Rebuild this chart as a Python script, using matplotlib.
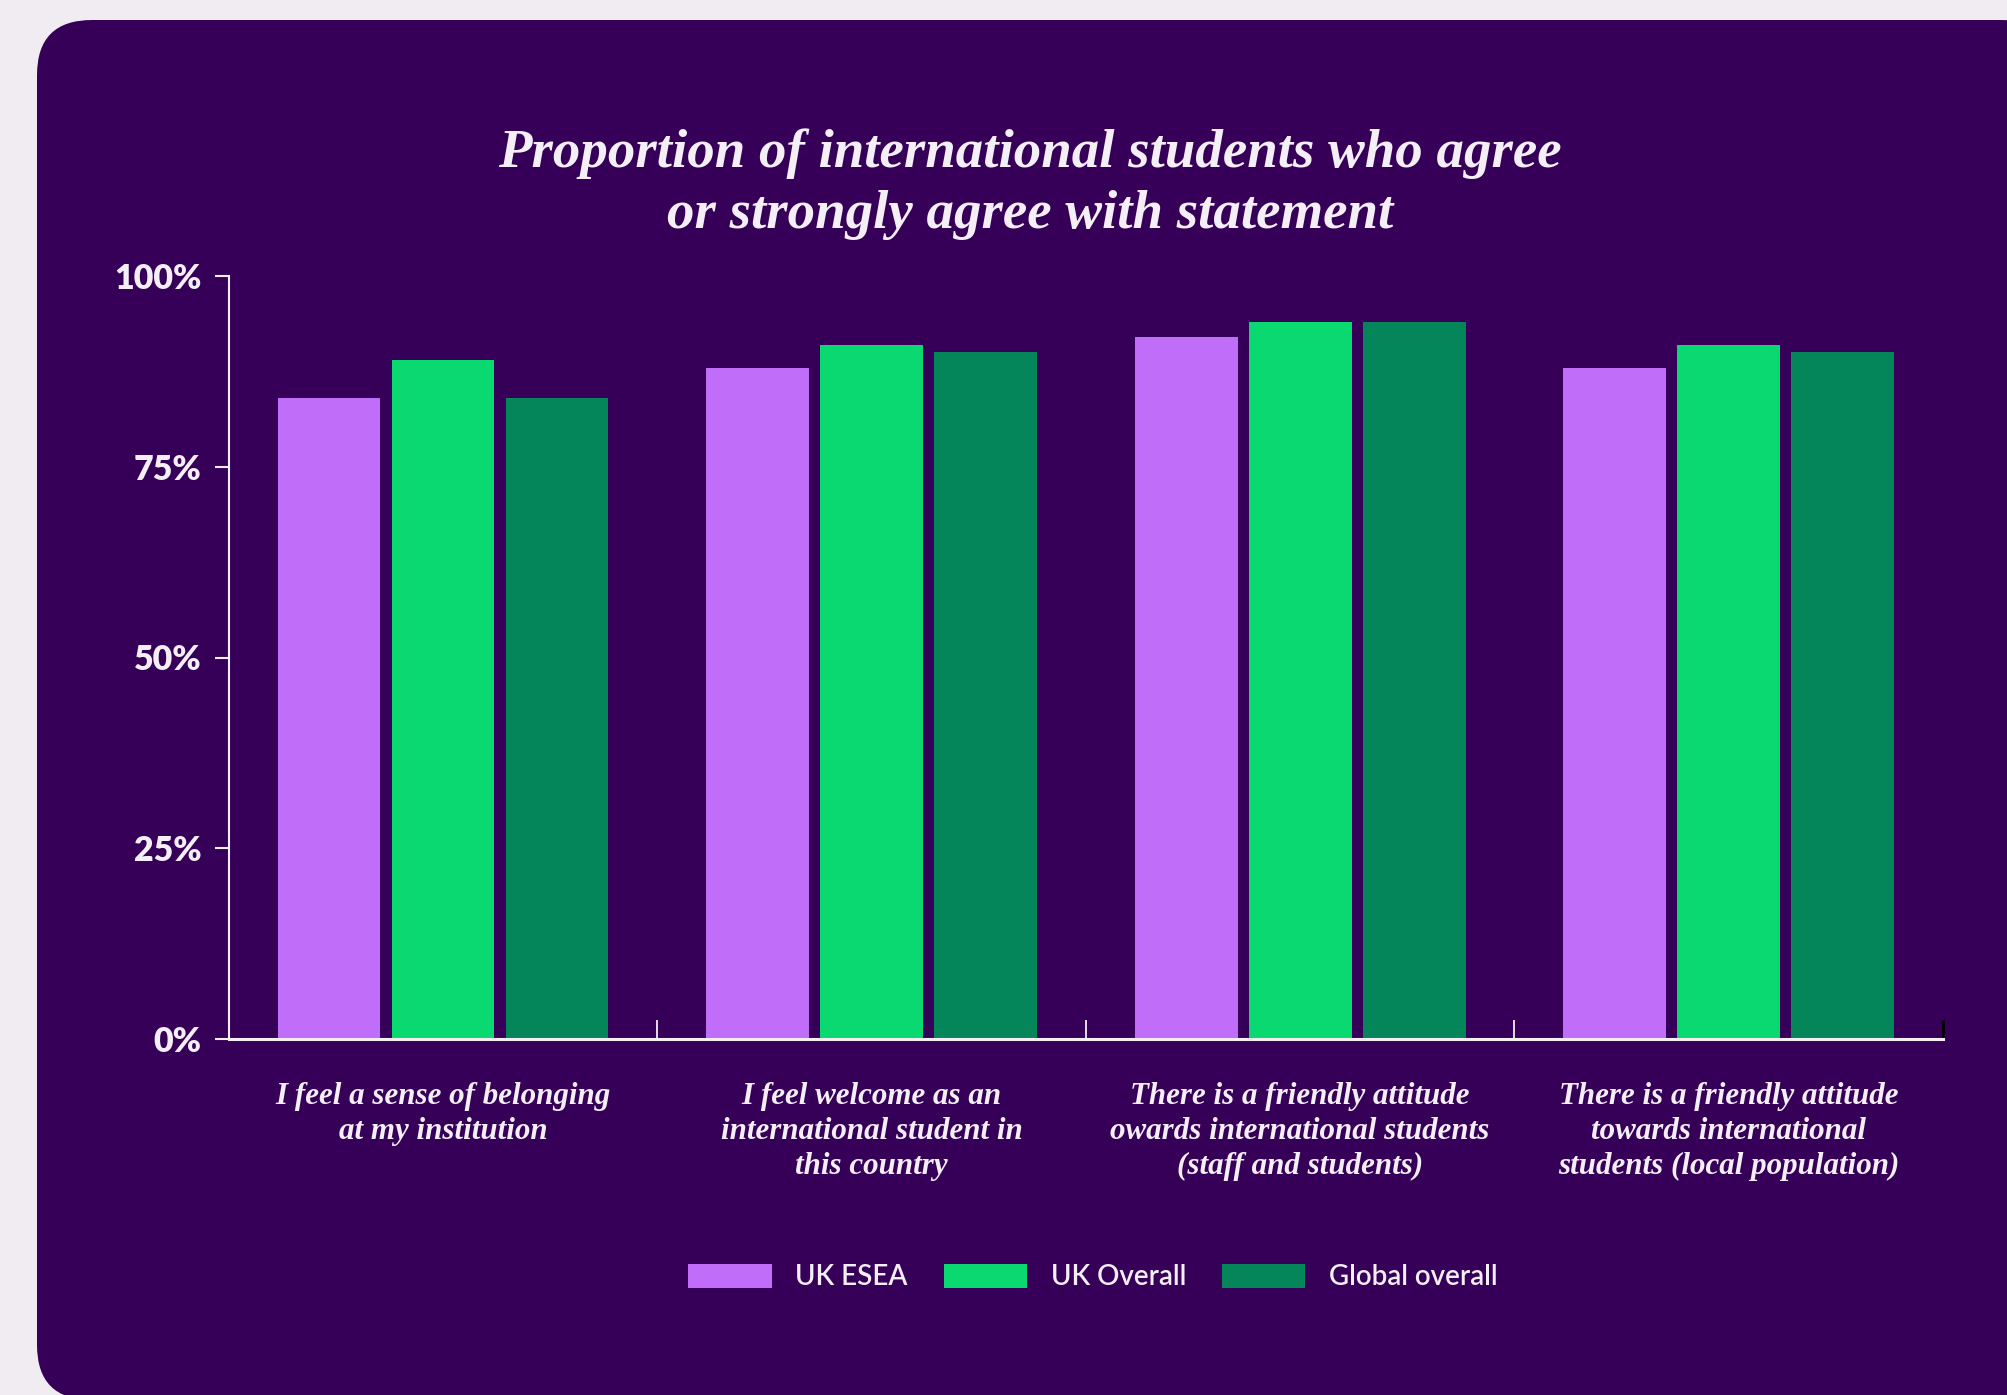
import matplotlib
matplotlib.use("Agg")
import matplotlib.pyplot as plt
from matplotlib.patches import FancyBboxPatch, Patch
import numpy as np

# Data
categories = [
    "I feel a sense of belonging\nat my institution",
    "I feel welcome as an\ninternational student in\nthis country",
    "There is a friendly attitude\nowards international students\n(staff and students)",
    "There is a friendly attitude\ntowards international\nstudents (local population)",
]
series_names = ["UK ESEA", "UK Overall", "Global overall"]
uk_esea = [84, 88, 92, 88]
uk_overall = [89, 91, 94, 91]
global_overall = [84, 90, 94, 90]
y_ticks = [0, 25, 50, 75, 100]
y_tick_labels = ["0%", "25%", "50%", "75%", "100%"]
title = "Proportion of international students who agree\nor strongly agree with statement"

# Styling
PAGE_BG = "#F1ECF2"
PANEL_BG = "#360058"
TEXT = "#F4EEF6"
COLORS = ["#C06EF9", "#0AD870", "#04855A"]
SANS = ["Lato", "DejaVu Sans"]
SERIF = ["Liberation Serif", "DejaVu Serif"]

W, H, DPI = 2008, 1395, 100
fig = plt.figure(figsize=(W / DPI, H / DPI), dpi=DPI, facecolor=PAGE_BG)

# Rounded dark panel behind everything
panel = FancyBboxPatch((0.37, -0.05), 20.2, 13.8,
                       boxstyle="round,pad=0,rounding_size=0.55",
                       transform=fig.dpi_scale_trans, facecolor=PANEL_BG,
                       edgecolor="none", zorder=-10)
fig.patches.append(panel)

ax = fig.add_axes([228.7 / W, (H - 1039) / H, (1943 - 228.7) / W, (1039 - 276) / H])
ax.set_facecolor("none")
ax.set_zorder(1)

x = np.arange(len(categories))
width = 0.24
step = 0.266
for i, (vals, name) in enumerate(zip([uk_esea, uk_overall, global_overall], series_names)):
    ax.bar(x + (i - 1) * step, vals, width=width, color=COLORS[i], label=name, zorder=2)

ax.set_xlim(-0.5, len(categories) - 0.5)
ax.set_ylim(0, 100)

for s in ["top", "right"]:
    ax.spines[s].set_visible(False)
ax.spines["left"].set_color(TEXT)
ax.spines["left"].set_linewidth(1.5)
ax.spines["bottom"].set_color(TEXT)
ax.spines["bottom"].set_linewidth(2.2)
ax.spines["bottom"].set_zorder(3)

ax.set_yticks(y_ticks)
ax.set_yticklabels(y_tick_labels, family=SANS, fontweight="heavy", fontsize=24.5, color=TEXT)
ax.tick_params(axis="y", direction="out", length=10, width=1.5, color=TEXT, pad=9.5)

ax.set_xticks(x)
ax.set_xticklabels(categories, family=SERIF, fontstyle="italic", fontweight="bold",
                   fontsize=22.3, color=TEXT, linespacing=1.28)
ax.tick_params(axis="x", which="major", length=0, pad=31)

# Category separators; the closing tick at the right end is dark
ax.set_xticks(np.arange(len(categories)) + 0.5, minor=True)
ax.tick_params(axis="x", which="minor", direction="in", length=13.5, width=1.3, color=TEXT)
end_tick = ax.xaxis.get_minor_ticks()[-1].tick1line
end_tick.set_markeredgecolor("black")
end_tick.set_markeredgewidth(2)

fig.text(1030 / W, (H - 128) / H, title, ha="center", va="top",
         family=SERIF, fontstyle="italic", fontweight="bold", fontsize=39.5,
         color=TEXT, linespacing=1.3)

handles = [Patch(facecolor=c, edgecolor="none") for c in COLORS]
leg = fig.legend(handles, series_names, loc="center", bbox_to_anchor=(1093 / W, (H - 1277) / H),
                 ncol=3, frameon=False, handlelength=3.0, handleheight=1.0,
                 handletextpad=0.85, columnspacing=1.3,
                 prop={"family": SANS, "size": 20, "weight": "semibold"})
for t in leg.get_texts():
    t.set_color(TEXT)

fig.savefig("out.png", dpi=DPI, facecolor=PAGE_BG)
